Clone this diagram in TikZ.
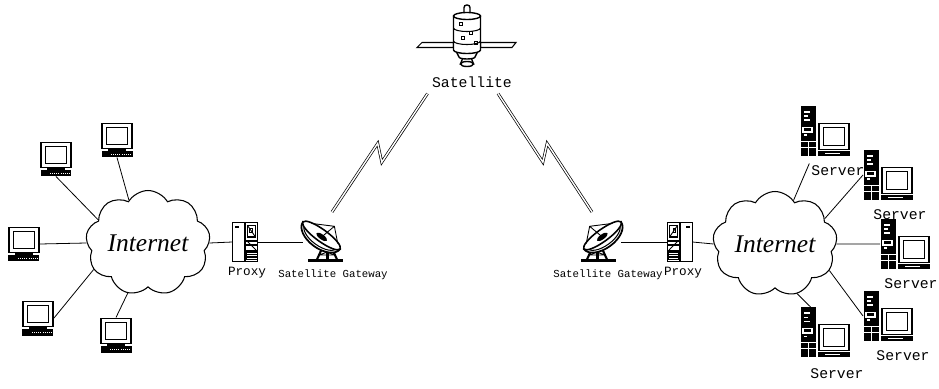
\documentclass[tikz,border=0pt]{standalone}
\usepackage{fontspec}
\newfontfamily\monofont{Liberation Mono}
\newfontfamily\cloudfont{Liberation Serif}
\usetikzlibrary{shapes.symbols,calc,positioning}

\tikzset{
	iconbox/.style={inner sep=0pt, outer sep=0pt},
	net/.style={cloud, draw, line width=0.6pt, cloud puffs=9, cloud puff arc=120, aspect=1.3, minimum width=2.3cm, minimum height=1.74cm, inner sep=0pt, font=\cloudfont\itshape\fontsize{14.5}{16}\selectfont},
	tag/.style={inner sep=1pt, font=\monofont\fontsize{7.2}{8}\selectfont},
	smalltag/.style={inner sep=1pt, font=\monofont\fontsize{6.1}{7}\selectfont},
	bigtag/.style={inner sep=1pt, font=\monofont\fontsize{8.4}{9}\selectfont},
	link/.style={line width=0.45pt},
	zap/.style 2 args={double, line width=0.4pt, double distance=0.8pt, to path={-- ($(\tikztostart)!0.54!(\tikztotarget)!0.15cm!#1:(\tikztotarget)$) -- ($(\tikztostart)!0.46!(\tikztotarget)!0.15cm!#2:(\tikztotarget)$) -- (\tikztotarget)}},
	% desktop terminal
	pics/pc/.style={code={
		\draw[line width=1.1pt, fill=white] (-0.3,-0.17) rectangle (0.3,0.33);
		\draw[line width=0.7pt] (-0.21,-0.09) rectangle (0.21,0.25);
		\fill (-0.18,-0.23) rectangle (0.18,-0.17);
		\fill (-0.31,-0.35) rectangle (0.31,-0.23);
		\draw[white, line width=0.5pt, dash pattern=on 0.6pt off 0.6pt] (-0.12,-0.29) -- (0.27,-0.29);
		\node[iconbox, minimum width=0.64cm, minimum height=0.7cm] (-box) {};
	}},
	% tower with monitor
	pics/server/.style={code={
		\fill (-0.48,-0.5) rectangle (-0.18,0.5);
		\fill[white] (-0.42,0.36) rectangle (-0.3,0.39);
		\fill[white] (-0.42,0.28) rectangle (-0.35,0.31);
		\fill[white] (-0.42,0.2) rectangle (-0.3,0.23);
		\draw[white, line width=0.6pt] (-0.44,-0.02) rectangle (-0.26,0.07);
		\fill[white] (-0.42,-0.1) rectangle (-0.37,-0.07);
		\draw[white, line width=0.3pt] (-0.48,-0.2) -- (-0.18,-0.2) (-0.48,-0.33) -- (-0.18,-0.33) (-0.33,-0.5) -- (-0.33,-0.2);
		\draw[line width=1.1pt, fill=white] (-0.12,-0.37) rectangle (0.48,0.15);
		\draw[line width=0.7pt] (-0.03,-0.29) rectangle (0.39,0.07);
		\fill (-0.14,-0.5) rectangle (0.49,-0.4);
		\draw[white, line width=0.4pt] (0.0,-0.45) -- (0.3,-0.45);
		\node[iconbox, minimum width=1cm, minimum height=1cm] (-box) {};
	}},
	pics/proxy/.style={code={
		\draw[line width=1pt, fill=white] (-0.25,-0.39) rectangle (0.25,0.39);
		\fill (-0.02,-0.39) rectangle (0.02,0.39);
		\fill (-0.2,0.27) rectangle (-0.12,0.31);
		\draw[line width=0.7pt] (0.05,0.1) rectangle (0.21,0.33);
		\draw[line width=0.5pt] (0.05,0.33) -- (0.21,0.1);
		\draw[line width=0.4pt] (0.09,0.27) rectangle (0.14,0.2);
		\foreach \y in {0.02,-0.06}
			\draw[line width=0.7pt] (0.02,\y) -- (0.25,\y);
		\draw[line width=0.6pt] (0.04,0.02) -- (0.22,-0.16);
		\fill (0.02,-0.37) rectangle (0.25,-0.17);
		\foreach \y in {-0.22,-0.27,-0.32}
			\draw[white, line width=0.4pt] (0.04,\y) -- (0.23,\y);
		\node[iconbox, minimum width=0.5cm, minimum height=0.78cm] (-box) {};
	}},
	% ground station dish
	pics/dish/.style={code={
		\fill (-0.32,-0.41) rectangle (0.38,-0.35);
		\draw[line width=1.2pt] (-0.14,-0.35) -- (0.0,-0.04) (0.26,-0.35) -- (0.12,-0.04);
		\draw[line width=0.5pt] (-0.1,-0.26) -- (0.22,-0.26) (-0.06,-0.16) -- (0.18,-0.16) (-0.1,-0.26) -- (0.18,-0.16) (0.22,-0.26) -- (-0.06,-0.16);
		\fill (0.03,-0.35) rectangle (0.09,-0.04);
		\begin{scope}[shift={(-0.05,0.13)}, rotate=-36]
			\draw[line width=1pt, fill=white] (-0.46,0) arc[start angle=180, end angle=360, x radius=0.46, y radius=0.26] -- cycle;
			\draw[line width=0.6pt] (-0.4,-0.02) arc[start angle=180, end angle=360, x radius=0.4, y radius=0.19];
			\draw[line width=0.9pt, fill=white] (0,0) ellipse (0.46 and 0.12);
			\fill (0.02,-0.02) ellipse (0.13 and 0.05);
			\draw[line width=0.5pt] (-0.3,0.08) -- (0.1,0.3) -- (0.36,0.06) (0.1,0.3) -- (0.02,-0.02);
		\end{scope}
		\node[iconbox, minimum width=0.84cm, minimum height=0.84cm] (-box) {};
	}},
	pics/satellite/.style={code={
		\draw[line width=0.6pt, fill=white] (-0.27,-0.13) -- (-0.9,-0.13) -- (-1.0,-0.23) -- (-0.27,-0.23) -- cycle;
		\draw[line width=0.6pt, fill=white] (0.27,-0.13) -- (0.98,-0.13) -- (0.9,-0.23) -- (0.27,-0.23) -- cycle;
		\draw[line width=0.8pt, fill=white] (-0.07,-0.4) -- (-0.13,-0.56) -- (0.13,-0.56) -- (0.07,-0.4) -- cycle;
		\draw[line width=0.8pt, fill=white] (0,-0.56) ellipse (0.13 and 0.05);
		\draw[line width=0.8pt, fill=white] (-0.22,-0.3) -- (-0.16,-0.42) arc[start angle=180, end angle=360, x radius=0.16, y radius=0.04] -- (0.22,-0.3);
		\draw[line width=0.8pt, fill=white, rounded corners=1.5pt] (-0.06,0.38) rectangle (0.06,0.62);
		\draw[line width=0.8pt, fill=white] (-0.27,0.4) -- (-0.27,-0.28) arc[start angle=180, end angle=360, x radius=0.27, y radius=0.07] -- (0.27,0.4);
		\draw[line width=0.8pt, fill=white] (0,0.4) ellipse (0.27 and 0.07);
		\foreach \y in {0.16,-0.1}
			\draw[line width=0.6pt] (-0.27,\y) arc[start angle=180, end angle=360, x radius=0.27, y radius=0.07];
		\draw[line width=0.5pt] (-0.16,0.22) rectangle +(0.06,0.05) (0.04,0.04) rectangle +(0.06,0.05) (-0.12,-0.06) rectangle +(0.06,0.05) (0.14,-0.16) rectangle +(0.06,0.05);
		\node[iconbox, minimum width=2cm, minimum height=1.24cm] (-box) {};
	}},
}

\begin{document}
\begin{tikzpicture}
	\useasboundingbox (0,0) rectangle (18.78,7.76);

	% up in orbit
	\pic (sat) at (9.34,7.04) {satellite};
	\node[bigtag, below=1.6mm of sat-box, xshift=1mm] (satlabel) {Satellite};

	% left network
	\node[net] (net1) at (2.96,2.9) {Internet};
	\pic (pc1) at (1.12,4.58) {pc};
	\pic (pc2) at (2.34,4.96) {pc};
	\pic (pc3) at (0.48,2.88) {pc};
	\pic (pc4) at (0.76,1.40) {pc};
	\pic (pc5) at (2.32,1.06) {pc};
	\pic (px1) at (4.9,2.92) {proxy};
	\node[tag, below=0.8mm of px1-box, xshift=0.4mm] {Proxy};
	\pic (gw1) at (6.48,2.92) {dish};
	\node[smalltag, below=1mm of gw1-box, xshift=1.8mm] {Satellite Gateway};

	\draw[link] (net1.155) -- (pc1-box.south);
	\draw[link] (net1.114) -- (pc2-box.south);
	\draw[link] (net1.west) -- (pc3-box.east);
	\draw[link] (net1.206) -- (pc4-box.east);
	\draw[link] (net1.248) -- (pc5-box.north);
	\draw[link] (net1.east) -- (px1-box.west);
	\draw[link] (px1-box.east) -- (gw1-box.west);

	% right network
	\node[net] (net2) at (15.5,2.88) {Internet};
	\pic[xscale=-1] (px2) at (13.6,2.92) {proxy};
	\node[tag, below=0.8mm of px2-box, xshift=0.6mm] {Proxy};
	\pic[xscale=-1] (gw2) at (12.0,2.92) {dish};
	\node[smalltag, below=1mm of gw2-box, xshift=1.6mm] {Satellite Gateway};
	\pic (s1) at (16.5,5.14) {server};
	\node[bigtag, below=1.5mm of s1-box, xshift=2.6mm] (s1tag) {Server};
	\pic (s2) at (17.76,4.26) {server};
	\node[bigtag, below=1.5mm of s2-box, xshift=2.4mm] {Server};
	\pic (s3) at (18.1,2.88) {server};
	\node[bigtag, below=1.5mm of s3-box, xshift=1.2mm] {Server};
	\pic (s4) at (17.76,1.44) {server};
	\node[bigtag, below=1.5mm of s4-box, xshift=3mm] {Server};
	\pic (s5) at (16.5,1.12) {server};
	\node[bigtag, below=2mm of s5-box, xshift=2.4mm] {Server};

	\draw[link] (net2.west) -- (px2-box.east);
	\draw[link] (px2-box.west) -- (gw2-box.east);
	\draw[link] (net2.67) -- (s1tag.north west);
	\draw[link] (net2.27) -- (s2-box.west);
	\draw[link] (net2.east) -- (s3-box.west);
	\draw[link] (net2.334) -- (s4-box.west);
	\draw[link] (net2.294) -- (s5-box.120);

	% radio links
	\draw[zap={90}{-90}] ([shift={(0.16,0.18)}]gw1-box.north) to ([shift={(-0.89,-0.07)}]satlabel.south);
	\draw[zap={-90}{90}] ([shift={(-0.16,0.18)}]gw2-box.north) to ([shift={(0.52,-0.07)}]satlabel.south);
\end{tikzpicture}
\end{document}
